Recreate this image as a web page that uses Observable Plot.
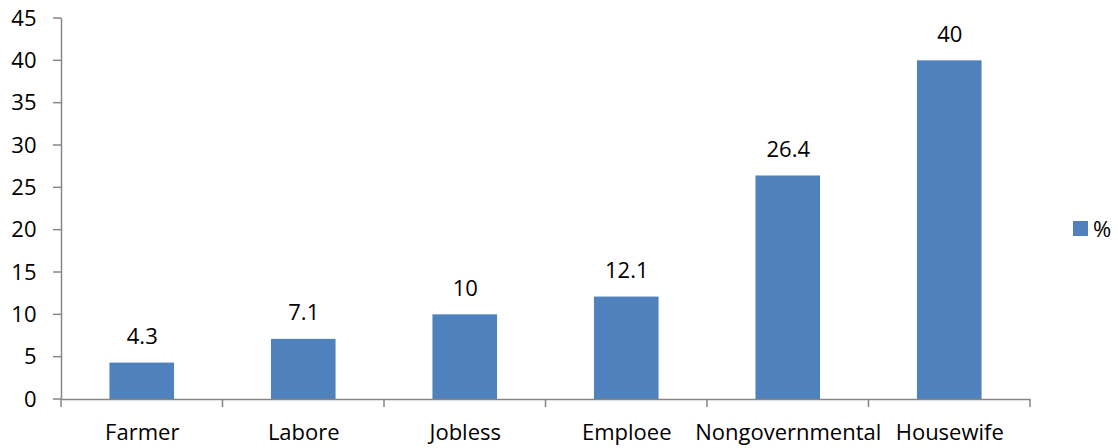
<!DOCTYPE html>
<html><head><meta charset="utf-8">
<script src="https://cdn.jsdelivr.net/npm/d3@7"></script>
<script src="https://cdn.jsdelivr.net/npm/@observablehq/plot@0.6"></script>
<style>
body{margin:0;background:#fff;}
#wrap{position:relative;width:1118px;height:448px;font-family:"Open Sans",sans-serif;}
#legend{position:absolute;left:1073px;top:213px;display:flex;align-items:center;font-size:22px;color:#000;}
#legend span.sw{display:inline-block;width:15px;height:15px;background:#4F81BD;margin-right:5px;}
</style>
</head><body>
<div id="wrap"><div id="chart"></div><div id="legend"><span class="sw"></span><span>%</span></div></div>
<script>
const categories = ["Farmer","Labore","Jobless","Emploee","Nongovernmental","Housewife"];
const values = [4.3, 7.1, 10, 12.1, 26.4, 40];
const yTicks = [0,5,10,15,20,25,30,35,40,45];

const data = categories.map((c,i)=>({c, i, v: values[i]}));
const color = "#4F81BD";
const gray = "#868686";

const chart = Plot.plot({
  width: 1118, height: 448,
  marginLeft: 61, marginRight: 88, marginTop: 18, marginBottom: 49,
  style: {fontFamily: "'Open Sans', sans-serif", fontSize: "22px", color: "#000", background: "#fff", overflow: "visible"},
  x: {type: "linear", domain: [0, categories.length], axis: null},
  y: {type: "linear", domain: [0, 45], axis: null},
  marks: [
    Plot.rectY(data, {x1: d => d.i + 0.3, x2: d => d.i + 0.7, y1: 0, y2: "v", fill: color}),
    Plot.ruleY([0], {stroke: gray, strokeWidth: 1.5}),
    Plot.ruleX([0], {stroke: gray, strokeWidth: 1.5}),
    Plot.text(yTicks, {x: 0, y: d => d, text: d => String(d), textAnchor: "end", dx: -25, fill: "#000"}),
    Plot.text(data, {x: d => d.i + 0.5, y: 0, text: "c", dy: 33, fill: "#000"}),
    Plot.text(data, {x: d => d.i + 0.5, y: "v", text: d => String(d.v), dy: -26, fill: "#000"})
  ]
});
document.getElementById("chart").appendChild(chart);

// tick marks positioned through the plot's scales
const sx = chart.scale("x"), sy = chart.scale("y");
const g = d3.select(chart).append("g").attr("stroke", gray).attr("stroke-width", 1.5);
yTicks.forEach(t => {
  const y = sy.apply(t), x = sx.apply(0);
  g.append("line").attr("x1", x - 8).attr("x2", x).attr("y1", y).attr("y2", y);
});
d3.range(categories.length + 1).forEach(t => {
  const x = sx.apply(t), y = sy.apply(0);
  g.append("line").attr("x1", x).attr("x2", x).attr("y1", y).attr("y2", y + 8);
});
</script>
</body></html>
